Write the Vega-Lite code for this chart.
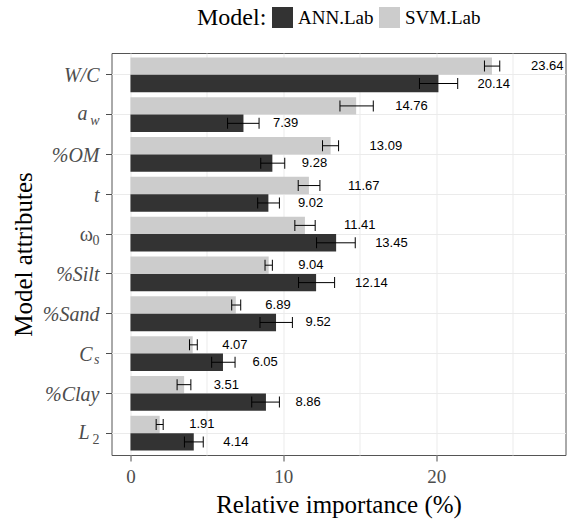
{
  "$schema": "https://vega.github.io/schema/vega-lite/v6.json",
  "width": 454,
  "height": 402,
  "autosize": {"type": "none"},
  "padding": {"left": 111.5, "top": 53, "right": 1.5, "bottom": 65},
  "background": "white",
  "config": {
    "view": {"stroke": "#555555", "strokeWidth": 1},
    "font": "'Liberation Serif', 'Times New Roman', serif"
  },
  "datasets": {
    "imp": [
      {"attr": "W/C", "model": "SVM.Lab", "value": 23.64, "lo": 23.15, "hi": 24.15},
      {"attr": "W/C", "model": "ANN.Lab", "value": 20.14, "lo": 18.9, "hi": 21.4},
      {"attr": "a_w", "model": "SVM.Lab", "value": 14.76, "lo": 13.7, "hi": 15.88},
      {"attr": "a_w", "model": "ANN.Lab", "value": 7.39, "lo": 6.35, "hi": 8.41},
      {"attr": "%OM", "model": "SVM.Lab", "value": 13.09, "lo": 12.56, "hi": 13.61},
      {"attr": "%OM", "model": "ANN.Lab", "value": 9.28, "lo": 8.52, "hi": 10.09},
      {"attr": "t", "model": "SVM.Lab", "value": 11.67, "lo": 10.97, "hi": 12.39},
      {"attr": "t", "model": "ANN.Lab", "value": 9.02, "lo": 8.32, "hi": 9.74},
      {"attr": "ω_0", "model": "SVM.Lab", "value": 11.41, "lo": 10.75, "hi": 12.08},
      {"attr": "ω_0", "model": "ANN.Lab", "value": 13.45, "lo": 12.17, "hi": 14.7},
      {"attr": "%Silt", "model": "SVM.Lab", "value": 9.04, "lo": 8.8, "hi": 9.28},
      {"attr": "%Silt", "model": "ANN.Lab", "value": 12.14, "lo": 10.99, "hi": 13.35},
      {"attr": "%Sand", "model": "SVM.Lab", "value": 6.89, "lo": 6.62, "hi": 7.21},
      {"attr": "%Sand", "model": "ANN.Lab", "value": 9.52, "lo": 8.47, "hi": 10.59},
      {"attr": "C_s", "model": "SVM.Lab", "value": 4.07, "lo": 3.86, "hi": 4.37},
      {"attr": "C_s", "model": "ANN.Lab", "value": 6.05, "lo": 5.31, "hi": 6.84},
      {"attr": "%Clay", "model": "SVM.Lab", "value": 3.51, "lo": 3.05, "hi": 3.95},
      {"attr": "%Clay", "model": "ANN.Lab", "value": 8.86, "lo": 7.93, "hi": 9.74},
      {"attr": "L_2", "model": "SVM.Lab", "value": 1.91, "lo": 1.68, "hi": 2.14},
      {"attr": "L_2", "model": "ANN.Lab", "value": 4.14, "lo": 3.53, "hi": 4.76}
    ],
    "labels": [
      {"attr": "W/C", "main": "W/C", "sub": ""},
      {"attr": "a_w", "main": "a", "sub": "w"},
      {"attr": "%OM", "main": "%OM", "sub": ""},
      {"attr": "t", "main": "t", "sub": ""},
      {"attr": "ω_0", "main": "ω", "sub": "0"},
      {"attr": "%Silt", "main": "%Silt", "sub": ""},
      {"attr": "%Sand", "main": "%Sand", "sub": ""},
      {"attr": "C_s", "main": "C", "sub": "s"},
      {"attr": "%Clay", "main": "%Clay", "sub": ""},
      {"attr": "L_2", "main": "L", "sub": "2"}
    ]
  },
  "layer": [
    {
      "data": {"name": "imp"},
      "mark": {"type": "bar"},
      "encoding": {
        "y": {
          "field": "attr", "type": "nominal",
          "scale": {"domain": ["W/C", "a_w", "%OM", "t", "ω_0", "%Silt", "%Sand", "C_s", "%Clay", "L_2"], "paddingInner": 0.125, "paddingOuter": 0.11},
          "axis": {
            "title": "Model attributes", "labels": false, "ticks": true, "tickSize": 6, "tickColor": "#4d4d4d",
            "domain": false, "grid": true, "gridColor": "#ebebeb", "gridWidth": 1,
            "titleFont": "'Liberation Serif', 'Times New Roman', serif", "titleFontSize": 25, "titleFontWeight": "normal", "titleColor": "black",
            "titleX": -80, "titleY": 201, "titleAngle": 270, "titleBaseline": "alphabetic", "titleAlign": "center"
          }
        },
        "yOffset": {"field": "model", "type": "nominal", "scale": {"domain": ["SVM.Lab", "ANN.Lab"], "paddingInner": 0, "paddingOuter": 0}},
        "x": {
          "field": "value", "type": "quantitative",
          "scale": {"domain": [-1.24, 28.45], "nice": false, "zero": false},
          "axis": {
            "title": "Relative importance (%)", "values": [0, 5, 10, 15, 20, 25],
            "labelExpr": "datum.value % 10 === 0 ? datum.label : ''",
            "tickColor": {"condition": {"test": "datum.value % 10 === 0", "value": "#4d4d4d"}, "value": "transparent"},
            "tickSize": 6, "labelFont": "'Liberation Serif', 'Times New Roman', serif", "labelFontSize": 19, "labelColor": "#4d4d4d",
            "labelPadding": 6, "labelFlush": false, "grid": true, "gridColor": "#ebebeb", "gridWidth": 1, "domain": false,
            "titleFont": "'Liberation Serif', 'Times New Roman', serif", "titleFontSize": 25, "titleFontWeight": "normal", "titleColor": "black",
            "titleY": 57.5, "titleBaseline": "alphabetic"
          }
        },
        "x2": {"datum": 0},
        "color": {
          "field": "model", "type": "nominal",
          "scale": {"domain": ["ANN.Lab", "SVM.Lab"], "range": ["#333333", "#cccccc"]},
          "legend": {
            "title": "Model:", "orient": "none", "legendX": 85.5, "legendY": -46, "direction": "horizontal",
            "titleOrient": "left", "titleFont": "'Liberation Serif', 'Times New Roman', serif", "titleFontSize": 24, "titleFontWeight": "normal",
            "titleColor": "black", "titlePadding": 5, "titleBaseline": "middle",
            "labelFont": "'Liberation Serif', 'Times New Roman', serif", "labelFontSize": 19, "labelColor": "black",
            "symbolType": "square", "symbolSize": 441, "symbolStrokeWidth": 0, "symbolOpacity": 1,
            "labelOffset": 5, "columnPadding": 5, "padding": 0
          }
        }
      }
    },
    {
      "data": {"name": "imp"},
      "mark": {"type": "rule", "color": "black", "strokeWidth": 1},
      "encoding": {
        "y": {"field": "attr", "type": "nominal"},
        "yOffset": {"field": "model", "type": "nominal"},
        "x": {"field": "lo", "type": "quantitative"},
        "x2": {"field": "hi"}
      }
    },
    {
      "data": {"name": "imp"},
      "mark": {"type": "tick", "color": "black", "size": 11, "thickness": 1, "opacity": 1},
      "encoding": {
        "y": {"field": "attr", "type": "nominal"},
        "yOffset": {"field": "model", "type": "nominal"},
        "x": {"field": "lo", "type": "quantitative"}
      }
    },
    {
      "data": {"name": "imp"},
      "mark": {"type": "tick", "color": "black", "size": 11, "thickness": 1, "opacity": 1},
      "encoding": {
        "y": {"field": "attr", "type": "nominal"},
        "yOffset": {"field": "model", "type": "nominal"},
        "x": {"field": "hi", "type": "quantitative"}
      }
    },
    {
      "data": {"name": "imp"},
      "transform": [{"filter": "datum.value >= 10"}],
      "mark": {"type": "text", "align": "left", "baseline": "middle", "dx": 39, "font": "'Liberation Sans', Arial, sans-serif", "fontSize": 13, "color": "black"},
      "encoding": {
        "y": {"field": "attr", "type": "nominal"},
        "yOffset": {"field": "model", "type": "nominal"},
        "x": {"field": "value", "type": "quantitative"},
        "text": {"field": "value", "type": "quantitative", "format": ".2f"}
      }
    },
    {
      "data": {"name": "imp"},
      "transform": [{"filter": "datum.value < 10"}],
      "mark": {"type": "text", "align": "left", "baseline": "middle", "dx": 29.5, "font": "'Liberation Sans', Arial, sans-serif", "fontSize": 13, "color": "black"},
      "encoding": {
        "y": {"field": "attr", "type": "nominal"},
        "yOffset": {"field": "model", "type": "nominal"},
        "x": {"field": "value", "type": "quantitative"},
        "text": {"field": "value", "type": "quantitative", "format": ".2f"}
      }
    },
    {
      "data": {"name": "labels"},
      "transform": [{"filter": "datum.sub === ''"}],
      "mark": {"type": "text", "align": "right", "baseline": "alphabetic", "dx": -12, "dy": 7.5, "font": "'Liberation Serif', 'Times New Roman', serif", "fontStyle": "italic", "fontSize": 20, "color": "#4d4d4d"},
      "encoding": {
        "y": {"field": "attr", "type": "nominal"},
        "x": {"datum": -1.24, "type": "quantitative"},
        "text": {"field": "main"}
      }
    },
    {
      "data": {"name": "labels"},
      "transform": [{"filter": "datum.attr === 'a_w'"}],
      "mark": {"type": "text", "align": "right", "baseline": "alphabetic", "dx": -24, "dy": 5, "font": "'Liberation Serif', 'Times New Roman', serif", "fontStyle": "italic", "fontSize": 20, "color": "#4d4d4d"},
      "encoding": {
        "y": {"field": "attr", "type": "nominal"},
        "x": {"datum": -1.24, "type": "quantitative"},
        "text": {"field": "main"}
      }
    },
    {
      "data": {"name": "labels"},
      "transform": [{"filter": "datum.attr === 'ω_0'"}],
      "mark": {"type": "text", "align": "right", "baseline": "alphabetic", "dx": -18.5, "dy": 7, "font": "'Liberation Serif', 'Times New Roman', serif", "fontSize": 20, "color": "#4d4d4d"},
      "encoding": {
        "y": {"field": "attr", "type": "nominal"},
        "x": {"datum": -1.24, "type": "quantitative"},
        "text": {"field": "main"}
      }
    },
    {
      "data": {"name": "labels"},
      "transform": [{"filter": "datum.attr === 'C_s'"}],
      "mark": {"type": "text", "align": "right", "baseline": "alphabetic", "dx": -19, "dy": 7, "font": "'Liberation Serif', 'Times New Roman', serif", "fontStyle": "italic", "fontSize": 20, "color": "#4d4d4d"},
      "encoding": {
        "y": {"field": "attr", "type": "nominal"},
        "x": {"datum": -1.24, "type": "quantitative"},
        "text": {"field": "main"}
      }
    },
    {
      "data": {"name": "labels"},
      "transform": [{"filter": "datum.attr === 'L_2'"}],
      "mark": {"type": "text", "align": "right", "baseline": "alphabetic", "dx": -22, "dy": 6, "font": "'Liberation Serif', 'Times New Roman', serif", "fontStyle": "italic", "fontSize": 20, "color": "#4d4d4d"},
      "encoding": {
        "y": {"field": "attr", "type": "nominal"},
        "x": {"datum": -1.24, "type": "quantitative"},
        "text": {"field": "main"}
      }
    },
    {
      "data": {"name": "labels"},
      "transform": [{"filter": "datum.sub === 'w' || datum.sub === 's'"}],
      "mark": {"type": "text", "align": "right", "baseline": "alphabetic", "dx": -12, "dy": 10, "font": "'Liberation Serif', 'Times New Roman', serif", "fontStyle": "italic", "fontSize": 14, "color": "#4d4d4d"},
      "encoding": {
        "y": {"field": "attr", "type": "nominal"},
        "x": {"datum": -1.24, "type": "quantitative"},
        "text": {"field": "sub"}
      }
    },
    {
      "data": {"name": "labels"},
      "transform": [{"filter": "datum.sub === '0' || datum.sub === '2'"}],
      "mark": {"type": "text", "align": "right", "baseline": "alphabetic", "dx": -12, "dy": 11, "font": "'Liberation Serif', 'Times New Roman', serif", "fontSize": 14, "color": "#4d4d4d"},
      "encoding": {
        "y": {"field": "attr", "type": "nominal"},
        "x": {"datum": -1.24, "type": "quantitative"},
        "text": {"field": "sub"}
      }
    }
  ]
}
